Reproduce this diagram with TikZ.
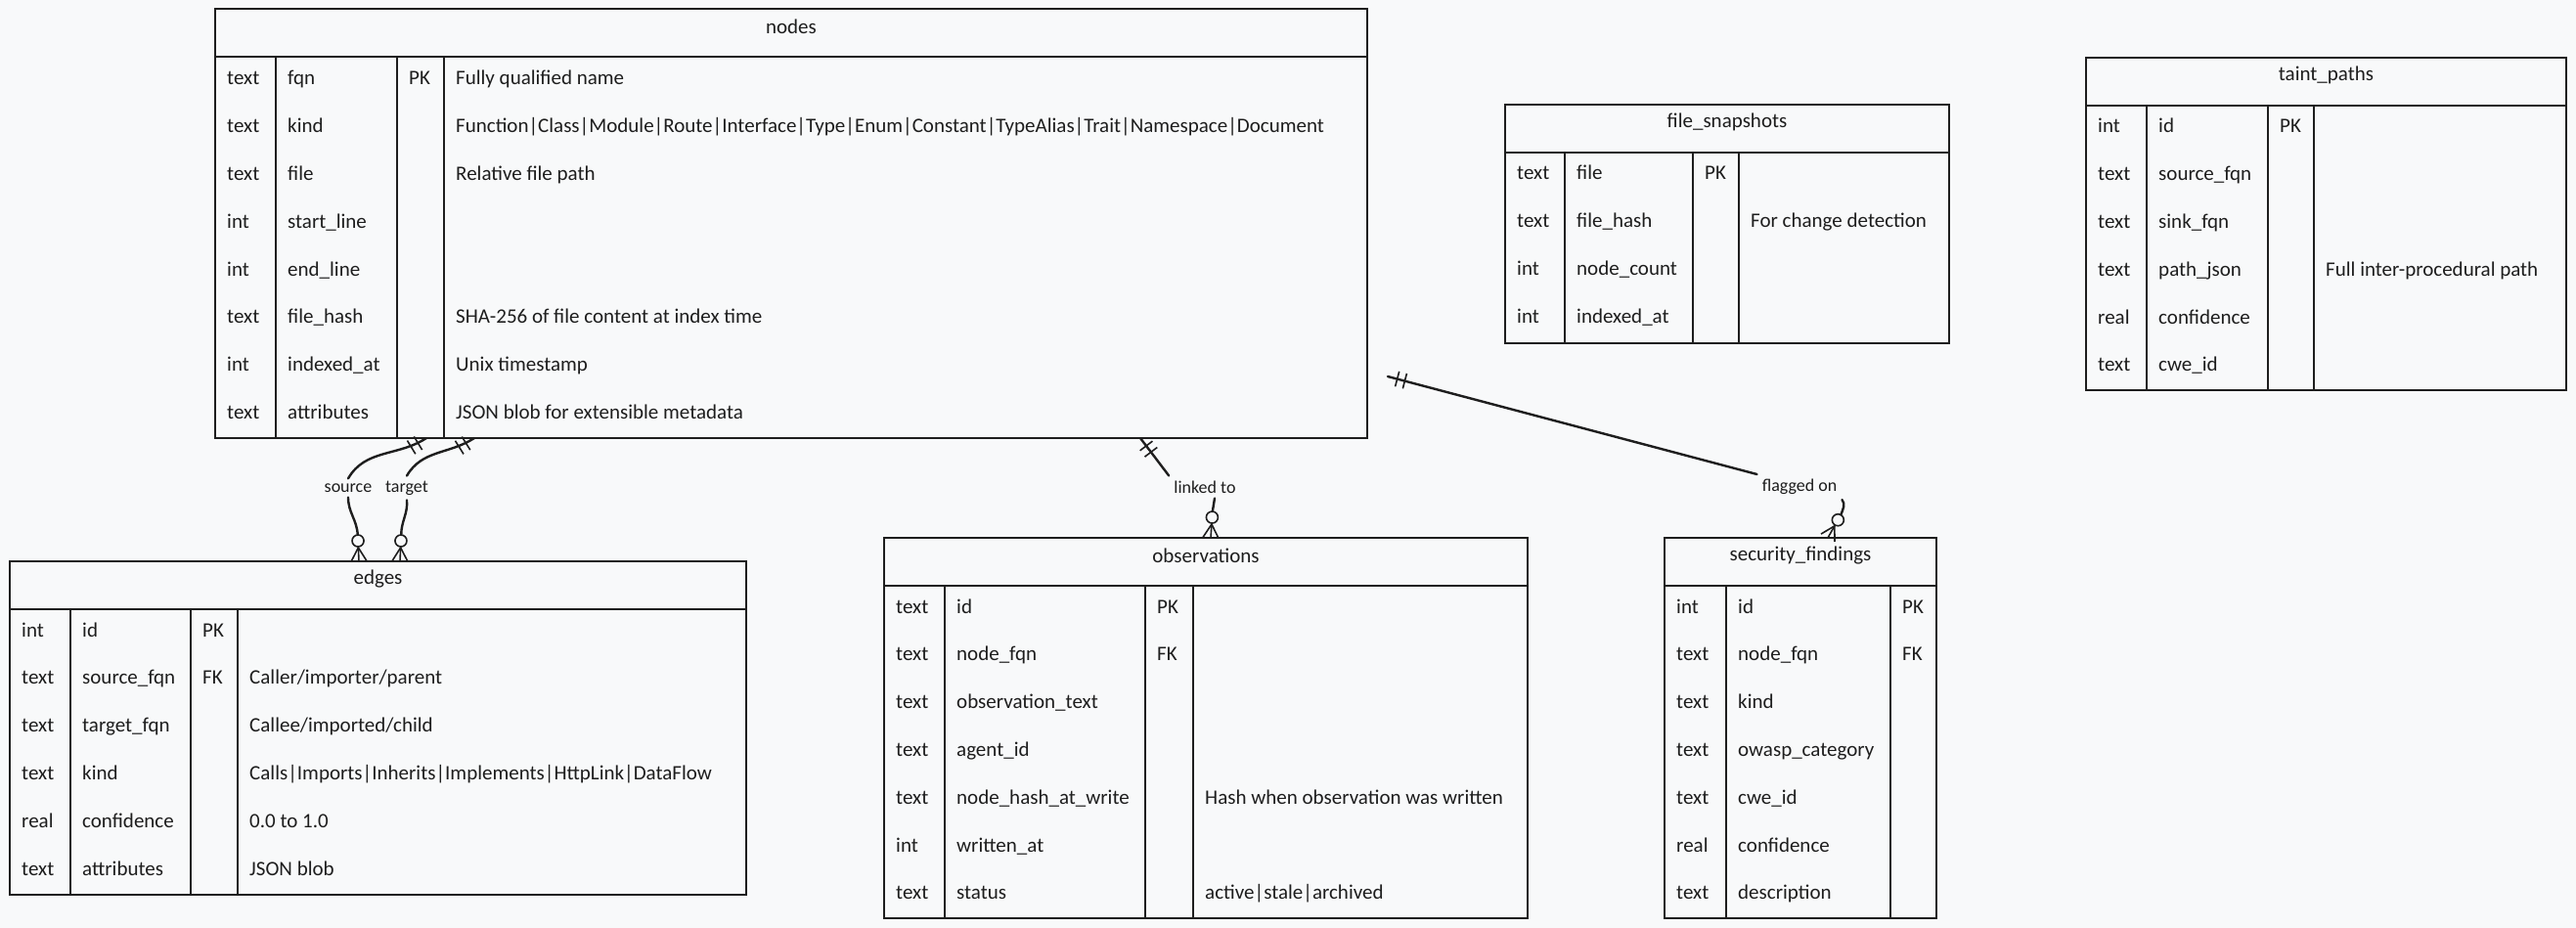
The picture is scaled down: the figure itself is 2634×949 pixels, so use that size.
\documentclass[tikz,border=0pt]{standalone}
\usepackage{fontspec}
\setmainfont{Carlito}
\usetikzlibrary{calc,positioning}

\definecolor{paper}{HTML}{F8F9FA}
\definecolor{ink}{HTML}{1E1E1E}

\tikzset{
    tbl/.style={draw=ink, line width=2.2pt},
    col/.style={draw=ink, line width=1.2pt},
    title/.style={font=\fontsize{21}{25}\selectfont, text=ink},
    cell/.style={anchor=base west, inner sep=0pt, font=\fontsize{21}{25}\selectfont, text=ink},
    rel/.style={font=\fontsize{18}{22}\selectfont, text=ink, inner sep=5pt},
    conn/.style={draw=ink, line width=2.4pt, line cap=round},
    tick/.style={draw=ink, line width=1.6pt},
}

% table frame: name, title, left, top, right, bottom, three column lines
\newcommand{\erbox}[9]{%
    \draw[tbl] (#3,-#4) rectangle (#5,-#6);
    \draw[tbl] (#3,{-#4-49}) -- (#5,{-#4-49});
    \foreach \c in {#7,#8,#9} { \draw[col] (\c,{-#4-49}) -- (\c,-#6); }
    \node[title] (#1) at ({(#3+#5)/2},{-#4-18}) {#2};
}
% table rows: name, left, three column lines, first row, rows
\newcommand{\errows}[7]{%
    \foreach \t/\f/\k/\d [count=\i] in {#7} {
        \node[cell] (#1-t\i) at (#2+12, {-#6-8-48.8*(\i-1)}) {\t};
        \node[cell] (#1-f\i) at (#3+12, {-#6-8-48.8*(\i-1)}) {\f};
        \node[cell] (#1-k\i) at (#4+12, {-#6-8-48.8*(\i-1)}) {\k};
        \node[cell] (#1-d\i) at (#5+12, {-#6-8-48.8*(\i-1)}) {\d};
    }
}
% zero-or-many end: foot on the table, towards the line
\newcommand{\crow}[2]{%
    \draw[tick] ($(#1)!8pt!90:(#2)$) -- ($(#1)!14pt!(#2)$) -- ($(#1)!8pt!-90:(#2)$);
    \draw[tick] (#1) -- ($(#1)!14pt!(#2)$);
    \draw[tick] ($(#1)!21pt!(#2)$) circle (6pt);
}
% exactly-one end
\newcommand{\onemark}[2]{%
    \foreach \s in {10,18} {
        \draw[tick] ($(#1)!\s pt!(#2)!8pt!90:(#2)$) -- ($(#1)!\s pt!(#2)!8pt!-90:(#2)$);
    }
}

\begin{document}
\begin{tikzpicture}[x=1pt, y=1pt]
    % Canvas
    \fill[paper] (0,0) rectangle (2634,-949);
    \useasboundingbox (0,0) rectangle (2634,-949);

    % Tables
    \erbox{nodes}{nodes}{220}{9}{1398}{448}{282}{406}{454}
    \errows{nodes}{220}{282}{406}{454}{79}{
        text/fqn/PK/Fully qualified name,
        text/kind/{}/Function|Class|Module|Route|Interface|Type|Enum|Constant|TypeAlias|Trait|Namespace|Document,
        text/file/{}/Relative file path,
        int/start\_line/{}/{},
        int/end\_line/{}/{},
        text/file\_hash/{}/SHA-256 of file content at index time,
        int/indexed\_at/{}/Unix timestamp,
        text/attributes/{}/JSON blob for extensible metadata}

    \erbox{edges}{edges}{10}{574}{763}{915}{72}{195}{243}
    \errows{edges}{10}{72}{195}{243}{643}{
        int/id/PK/{},
        text/source\_fqn/FK/{Caller/importer/parent},
        text/target\_fqn/{}/{Callee/imported/child},
        text/kind/{}/Calls|Imports|Inherits|Implements|HttpLink|DataFlow,
        real/confidence/{}/0.0 to 1.0,
        text/attributes/{}/JSON blob}

    \erbox{obs}{observations}{904}{550}{1562}{939}{966}{1171}{1220}
    \errows{obs}{904}{966}{1171}{1220}{619}{
        text/id/PK/{},
        text/node\_fqn/FK/{},
        text/observation\_text/{}/{},
        text/agent\_id/{}/{},
        text/node\_hash\_at\_write/{}/Hash when observation was written,
        int/written\_at/{}/{},
        text/status/{}/active|stale|archived}

    \erbox{sec}{security\_findings}{1702}{550}{1980}{939}{1765}{1933}{1980}
    \errows{sec}{1702}{1765}{1933}{1980}{619}{
        int/id/PK/{},
        text/node\_fqn/FK/{},
        text/kind/{}/{},
        text/owasp\_category/{}/{},
        text/cwe\_id/{}/{},
        real/confidence/{}/{},
        text/description/{}/{}}

    \erbox{snap}{file\_snapshots}{1539}{107}{1993}{351}{1600}{1731}{1778}
    \errows{snap}{1539}{1600}{1731}{1778}{176}{
        text/file/PK/{},
        text/file\_hash/{}/For change detection,
        int/node\_count/{}/{},
        int/indexed\_at/{}/{}}

    \erbox{taint}{taint\_paths}{2133}{59}{2624}{399}{2195}{2319}{2366}
    \errows{taint}{2133}{2195}{2319}{2366}{128}{
        int/id/PK/{},
        text/source\_fqn/{}/{},
        text/sink\_fqn/{}/{},
        text/path\_json/{}/Full inter-procedural path,
        real/confidence/{}/{},
        text/cwe\_id/{}/{}}

    % Relations
    \coordinate (srcA) at (436,-448);
    \coordinate (srcE) at (400,-470);
    \coordinate (srcB) at (367,-574);
    \coordinate (srcD) at (365,-530);
    \node[rel] (srcl) at (356,-499) {source};
    \draw[conn] (srcA) to[out=213,in=60] (srcl.north);
    \draw[conn] (srcl.south) to[out=-90,in=93] ($(srcB)!27pt!(srcD)$);
    \onemark{srcA}{srcE}
    \crow{srcB}{srcD}

    \coordinate (tgtA) at (485,-448);
    \coordinate (tgtE) at (450,-470);
    \coordinate (tgtB) at (409,-574);
    \coordinate (tgtD) at (411,-530);
    \node[rel] (tgtl) at (416,-499) {target};
    \draw[conn] (tgtA) to[out=213,in=60] (tgtl.north);
    \draw[conn] (tgtl.south) to[out=-85,in=90] ($(tgtB)!27pt!(tgtD)$);
    \onemark{tgtA}{tgtE}
    \crow{tgtB}{tgtD}

    \coordinate (obsA) at (1166,-448);
    \coordinate (obsB) at (1238,-550);
    \coordinate (obsD) at (1240,-520);
    \node[rel] (obsl) at (1232,-498) {linked to};
    \draw[conn] (obsA) -- (obsl.north west);
    \draw[conn] (obsl.south) ++(10,0) -- ($(obsB)!27pt!(obsD)$);
    \onemark{obsA}{obsl.north west}
    \crow{obsB}{obsD}

    \coordinate (secA) at (1419,-385);
    \coordinate (secB) at (1869,-550);
    \coordinate (secD) at (1882,-527);
    \node[rel] (secl) at (1840,-498) {flagged on};
    \draw[conn] (secA) -- (secl.north west);
    \draw[conn] (secl.south east) to[out=-50,in=70] ($(secB)!27pt!(secD)$);
    \onemark{secA}{secl.north west}
    \crow{secB}{secD}
\end{tikzpicture}
\end{document}
